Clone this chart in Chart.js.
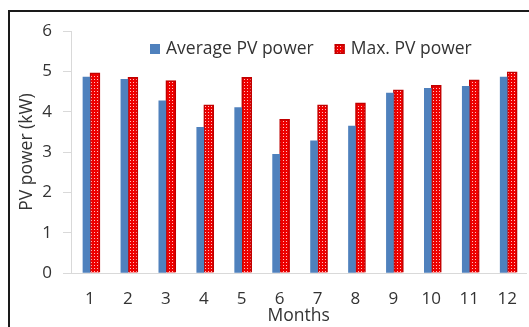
<!DOCTYPE html>
<html>
<head>
<meta charset="utf-8">
<script src="https://cdn.jsdelivr.net/npm/chart.js@4"></script>
<style>
    html, body { margin: 0; padding: 0; background: #fff; overflow: hidden; }
    #wrap { position: relative; width: 529px; height: 327px; overflow: hidden; }
    #frame {
        position: absolute; left: 8px; top: 10px; width: 700px; height: 500px;
        border-left: 2px solid #1a1a1a; border-top: 2px solid #1a1a1a;
        pointer-events: none;
    }
    canvas { position: absolute; left: 0; top: 0; }
</style>
</head>
<body>
<div id="wrap">
    <canvas id="pvChart" width="533" height="327"></canvas>
    <div id="frame"></div>
</div>
<script>
const months = ['1', '2', '3', '4', '5', '6', '7', '8', '9', '10', '11', '12'];
const avgPower = [4.86, 4.80, 4.27, 3.61, 4.10, 2.94, 3.28, 3.64, 4.46, 4.58, 4.63, 4.86];
const maxPower = [4.96, 4.85, 4.77, 4.17, 4.85, 3.81, 4.17, 4.22, 4.54, 4.65, 4.79, 4.99];
const yTicks = [0, 1, 2, 3, 4, 5, 6];

const FONT = '"Open Sans", "Noto Sans", sans-serif';
const TEXT = '#333333';
const AXIS = '#d9d9d9';
const BLUE = '#4f81bd';
const RED_EDGE = '#c00000';

// dotted red fill for the max series
function makeDotPattern(ctx) {
    const tile = document.createElement('canvas');
    tile.width = 3;
    tile.height = 3;
    const t = tile.getContext('2d');
    t.fillStyle = '#ee0000';
    t.fillRect(0, 0, 3, 3);
    t.fillStyle = '#ffc0c0';
    t.fillRect(1, 1, 1, 1);
    return ctx.createPattern(tile, 'repeat');
}

// legend sits inside the plot, Excel style
const insideLegend = {
    id: 'insideLegend',
    afterDraw(chart) {
        const ctx = chart.ctx;
        ctx.save();
        ctx.font = '17.5px ' + FONT;
        ctx.textBaseline = 'middle';
        let x = 150;
        const y = 49;
        chart.data.datasets.forEach((ds, i) => {
            ctx.fillStyle = ds.backgroundColor;
            ctx.fillRect(x, y - 5, 10, 10);
            if (ds.borderWidth) {
                ctx.strokeStyle = ds.borderColor;
                ctx.lineWidth = 1.5;
                ctx.strokeRect(x + 0.75, y - 4.25, 8.5, 8.5);
            }
            ctx.fillStyle = TEXT;
            ctx.fillText(ds.label, x + 16, y);
            x += 16 + ctx.measureText(ds.label).width + 21;
        });
        ctx.restore();
    }
};

const canvas = document.getElementById('pvChart');
const ctx = canvas.getContext('2d');

new Chart(ctx, {
    type: 'bar',
    data: {
        labels: months,
        datasets: [
            {
                label: 'Average PV power',
                data: avgPower,
                backgroundColor: BLUE,
                borderWidth: 0,
                barThickness: 7
            },
            {
                label: 'Max. PV power',
                data: maxPower,
                backgroundColor: makeDotPattern(ctx),
                borderColor: RED_EDGE,
                borderWidth: 1.5,
                barThickness: 10
            }
        ]
    },
    options: {
        responsive: false,
        animation: false,
        layout: { padding: { top: 31, right: 2, bottom: 0, left: 0 } },
        plugins: {
            legend: { display: false },
            tooltip: { enabled: false }
        },
        scales: {
            x: {
                grid: { display: true, drawOnChartArea: false, drawTicks: false, color: AXIS },
                border: { display: true, color: AXIS, width: 1 },
                ticks: { color: TEXT, font: { family: FONT, size: 17 }, padding: 16, maxRotation: 0 },
                title: {
                    display: true, text: 'Months', color: TEXT,
                    font: { family: FONT, size: 17.5 }, padding: { top: 1, bottom: 0 }
                },
                afterFit(scale) { scale.height = 54; }
            },
            y: {
                min: 0,
                max: 6,
                afterBuildTicks(scale) { scale.ticks = yTicks.map(v => ({ value: v })); },
                grid: { display: true, drawOnChartArea: false, drawTicks: true, tickLength: 8, color: AXIS },
                border: { display: true, color: AXIS, width: 1 },
                ticks: { color: TEXT, font: { family: FONT, size: 17 }, padding: 11 },
                title: {
                    display: true, text: 'PV power (kW)', color: TEXT,
                    font: { family: FONT, size: 17.5 }, padding: { top: 17, bottom: 0 }
                },
                afterFit(scale) { scale.width = 71; }
            }
        }
    },
    plugins: [insideLegend]
});
</script>
</body>
</html>
